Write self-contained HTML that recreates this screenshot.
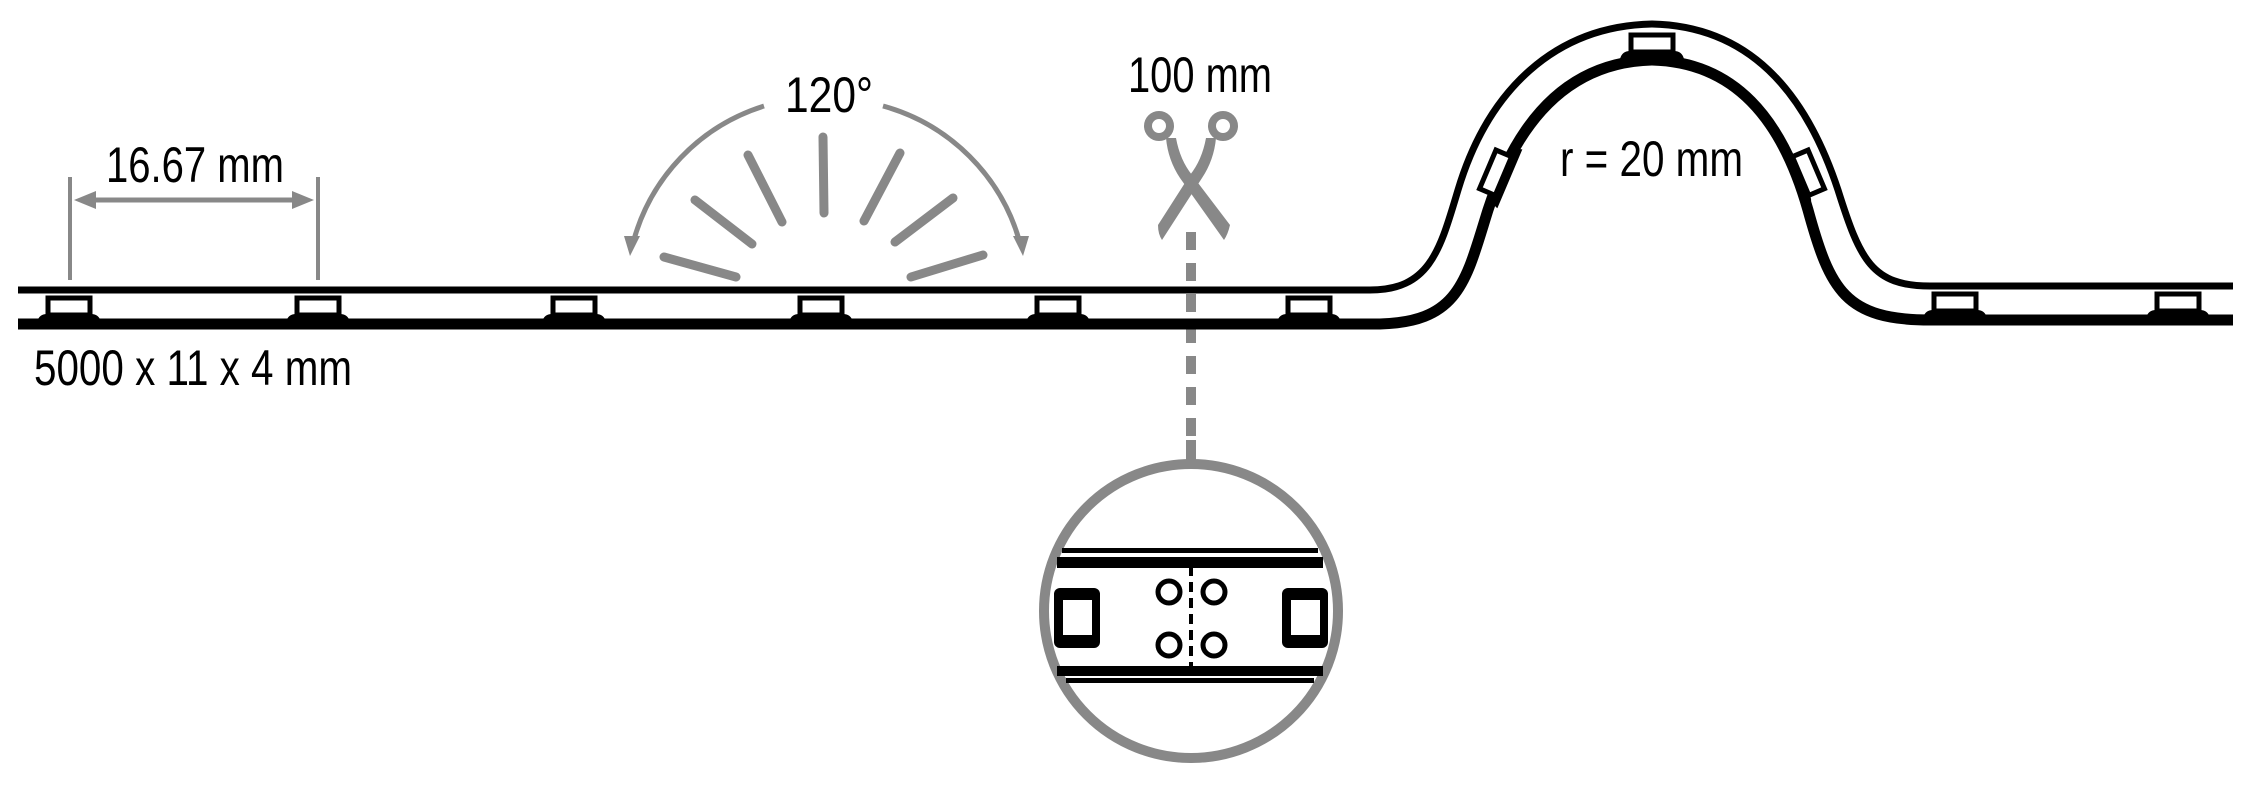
<!DOCTYPE html>
<html><head><meta charset="utf-8"><style>html,body{margin:0;padding:0;background:#fff}svg{display:block}</style></head>
<body>
<svg width="2254" height="799" viewBox="0 0 2254 799" xmlns="http://www.w3.org/2000/svg">
<defs>
<g id="chip">
<rect x="-21" y="-22" width="42" height="17" fill="#fff" stroke="#000" stroke-width="5"/>
<path d="M-32,2 Q-30,-6 -22,-6 L22,-6 Q30,-6 32,2 Z" fill="#000"/>
</g>
</defs>
<g font-family="'Liberation Sans', sans-serif" fill="#000" font-size="50">
<text x="106" y="182" textLength="178" lengthAdjust="spacingAndGlyphs">16.67 mm</text>
<text x="34" y="385" textLength="318" lengthAdjust="spacingAndGlyphs">5000 x 11 x 4 mm</text>
<text x="785" y="112" textLength="88" lengthAdjust="spacingAndGlyphs">120°</text>
<text x="1128" y="92" textLength="144" lengthAdjust="spacingAndGlyphs">100 mm</text>
<text x="1560" y="176" textLength="183" lengthAdjust="spacingAndGlyphs">r = 20 mm</text>
</g>
<!-- dimension -->
<g stroke="#888" fill="#888">
<line x1="70" y1="177" x2="70" y2="280" stroke-width="4"/>
<line x1="318" y1="177" x2="318" y2="280" stroke-width="4"/>
<line x1="90" y1="200" x2="298" y2="200" stroke-width="5"/>
<polygon points="74,200 96,191 96,209" stroke="none"/>
<polygon points="314,200 292,191 292,209" stroke="none"/>
</g>
<!-- 120 arcs -->
<g stroke="#888" fill="none" stroke-width="5">
<path d="M764,106 A196,196 0 0 0 633,243"/>
<path d="M883,106 A196,196 0 0 1 1020,243"/>
</g>
<polygon points="624,236 640,236 630,256" fill="#888"/>
<polygon points="1013,236 1029,236 1023,256" fill="#888"/>
<g stroke="#888" stroke-width="9" stroke-linecap="round">
<line x1="823" y1="137" x2="824" y2="213"/>
<line x1="748" y1="155" x2="782" y2="222"/>
<line x1="695" y1="200" x2="752" y2="244"/>
<line x1="664" y1="257" x2="736" y2="277"/>
<line x1="900" y1="153" x2="864" y2="221"/>
<line x1="953" y1="198" x2="895" y2="242"/>
<line x1="983" y1="255" x2="911" y2="277"/>
</g>
<!-- scissors -->
<g fill="#888">
<circle cx="1159" cy="126" r="11" fill="none" stroke="#888" stroke-width="8"/>
<circle cx="1223" cy="126" r="11" fill="none" stroke="#888" stroke-width="8"/>
<path d="M1166,138 L1176,138 Q1180,160 1192,175 L1230,225 Q1228,234 1224,240 L1180,178 Q1168,160 1166,138 Z"/>
<path d="M1216,138 L1206,138 Q1202,160 1190,175 L1158,225 Q1158,234 1162,240 L1202,178 Q1214,160 1216,138 Z"/>
</g>
<line x1="1191" y1="232" x2="1191" y2="462" stroke="#888" stroke-width="10" stroke-dasharray="18,13"/>
<!-- strip -->
<g fill="none" stroke="#000" stroke-linecap="butt">
<path d="M18,290 L1370,290 C1430,290 1440,250 1458,190 C1488,90 1555,26 1652,24 C1748,26 1805,90 1838,190 C1860,260 1872,286 1930,286 L2233,286" stroke-width="7"/>
<path d="M18,324 L1380,324 C1460,322 1466,280 1488,210 C1518,118 1570,62 1652,60 C1734,62 1782,118 1808,210 C1830,290 1845,320 1930,320 L2233,320" stroke-width="11"/>
</g>
<use href="#chip" x="69" y="320"/>
<use href="#chip" x="318" y="320"/>
<use href="#chip" x="574" y="320"/>
<use href="#chip" x="821" y="320"/>
<use href="#chip" x="1058" y="320"/>
<use href="#chip" x="1309" y="320"/>
<use href="#chip" x="1955" y="316"/>
<use href="#chip" x="2178" y="316"/>
<use href="#chip" x="1652" y="57"/>
<use href="#chip" transform="translate(1508,178) rotate(-67)"/>
<use href="#chip" transform="translate(1796,178) rotate(67)"/>
<!-- zoom circle -->
<line x1="1191" y1="440" x2="1191" y2="465" stroke="#888" stroke-width="10"/>
<circle cx="1191" cy="611" r="147" fill="#fff" stroke="#888" stroke-width="10"/>
<g fill="#000">
<rect x="1062" y="548" width="256" height="5"/>
<rect x="1057" y="557" width="266" height="11"/>
<rect x="1057" y="666" width="266" height="10"/>
<rect x="1066" y="678" width="248" height="5"/>
<rect x="1054" y="588" width="46" height="60" rx="6"/>
<rect x="1282" y="588" width="46" height="60" rx="6"/>
</g>
<rect x="1063" y="600" width="29" height="35" fill="#fff"/>
<rect x="1291" y="600" width="29" height="35" fill="#fff"/>
<g fill="none" stroke="#000" stroke-width="5">
<circle cx="1169" cy="592" r="11"/><circle cx="1214" cy="592" r="11"/>
<circle cx="1169" cy="645" r="11"/><circle cx="1214" cy="645" r="11"/>
<line x1="1191" y1="566" x2="1191" y2="670" stroke-width="4" stroke-dasharray="10,6"/>
</g>
</svg>
</body></html>
